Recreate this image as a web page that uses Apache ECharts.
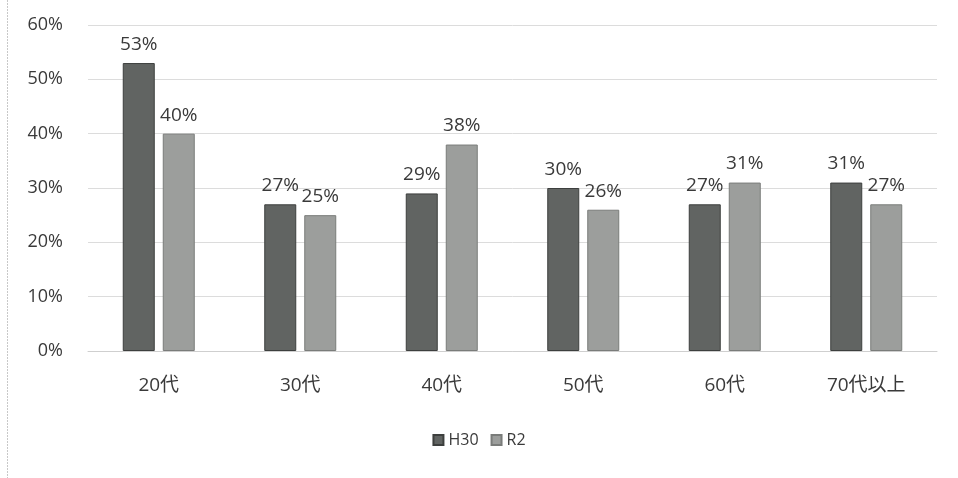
<!DOCTYPE html>
<html>
<head>
<meta charset="utf-8">
<script src="https://cdn.jsdelivr.net/npm/echarts@6/dist/echarts.min.js"></script>
<style>
  html, body { margin: 0; padding: 0; background: #ffffff; }
  #chart { width: 958px; height: 478px; }
</style>
</head>
<body>
<div id="chart"></div>
<script>
// Age groups on the category axis
const categories = ['20代', '30代', '40代', '50代', '60代', '70代以上'];
// Share per age group, in percent
const seriesH30 = [53, 27, 29, 30, 27, 31];
const seriesR2 = [40, 25, 38, 26, 31, 27];
// Value axis ticks
const yTicks = [0, 10, 20, 30, 40, 50, 60];

const font = '"Open Sans", "Noto Sans CJK JP", sans-serif';
const chart = echarts.init(document.getElementById('chart'), null, { renderer: 'canvas' });

const labelStyle = {
  show: true,
  position: 'top',
  distance: 9,
  formatter: p => p.value + '%',
  color: '#3a3a3a',
  fontSize: 19,
  fontFamily: font
};

chart.setOption({
  backgroundColor: '#ffffff',
  animation: false,
  grid: { left: 88, right: 21, top: 25, bottom: 127, containLabel: false },
  legend: {
    bottom: 25,
    left: 'center',
    itemWidth: 10,
    itemHeight: 10,
    itemGap: 12,
    icon: 'rect',
    textStyle: { color: '#3a3a3a', fontSize: 16, fontFamily: font },
    data: ['H30', 'R2']
  },
  xAxis: {
    type: 'category',
    data: categories,
    axisLine: { lineStyle: { color: '#cfcfcf' } },
    axisTick: { show: false },
    axisLabel: { color: '#3a3a3a', fontSize: 19, fontFamily: font, margin: 25 }
  },
  yAxis: {
    type: 'value',
    min: yTicks[0],
    max: yTicks[yTicks.length - 1],
    interval: 10,
    axisLine: { show: false },
    axisTick: { show: false },
    axisLabel: { color: '#3a3a3a', fontSize: 18, fontFamily: font, margin: 25, formatter: v => v + '%' },
    splitLine: { lineStyle: { color: '#dcdcdc', width: 1 } }
  },
  series: [
    {
      name: 'H30',
      type: 'bar',
      data: seriesH30,
      barWidth: 32,
      barGap: '25%',
      itemStyle: { color: '#616462', borderColor: '#3d3f3e', borderWidth: 1 },
      label: labelStyle
    },
    {
      name: 'R2',
      type: 'bar',
      data: seriesR2,
      barWidth: 32,
      barGap: '25%',
      itemStyle: { color: '#9c9e9c', borderColor: '#7a7c7a', borderWidth: 1 },
      label: labelStyle
    }
  ],
  graphic: [
    {
      type: 'line',
      shape: { x1: 7.5, y1: 0, x2: 7.5, y2: 478 },
      style: { stroke: '#c8c8c8', lineWidth: 1, lineDash: [2, 1] }
    }
  ]
});
</script>
</body>
</html>
